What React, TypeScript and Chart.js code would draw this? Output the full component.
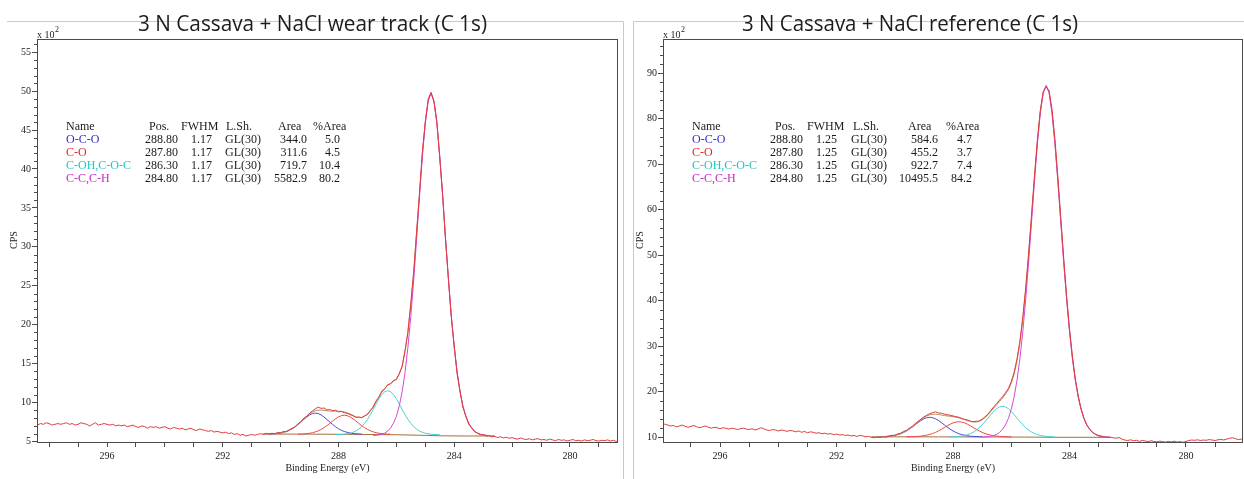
import React, { useEffect, useRef } from "react";
import { Chart, registerables } from "chart.js";

Chart.register(...registerables);
Chart.defaults.font.family = '"Liberation Serif", serif';

// ---------- DATA ----------
const energy = [
  298.6, 298.5, 298.4, 298.3, 298.2, 298.1, 298.0, 297.9, 297.8, 297.7,
  297.6, 297.5, 297.4, 297.3, 297.2, 297.1, 297.0, 296.9, 296.8, 296.7,
  296.6, 296.5, 296.4, 296.3, 296.2, 296.1, 296.0, 295.9, 295.8, 295.7,
  295.6, 295.5, 295.4, 295.3, 295.2, 295.1, 295.0, 294.9, 294.8, 294.7,
  294.6, 294.5, 294.4, 294.3, 294.2, 294.1, 294.0, 293.9, 293.8, 293.7,
  293.6, 293.5, 293.4, 293.3, 293.2, 293.1, 293.0, 292.9, 292.8, 292.7,
  292.6, 292.5, 292.4, 292.3, 292.2, 292.1, 292.0, 291.9, 291.8, 291.7,
  291.6, 291.5, 291.4, 291.3, 291.2, 291.1, 291.0, 290.9, 290.8, 290.7,
  290.6, 290.5, 290.4, 290.3, 290.2, 290.1, 290.0, 289.9, 289.8, 289.7,
  289.6, 289.5, 289.4, 289.3, 289.2, 289.1, 289.0, 288.9, 288.8, 288.7,
  288.6, 288.5, 288.4, 288.3, 288.2, 288.1, 288.0, 287.9, 287.8, 287.7,
  287.6, 287.5, 287.4, 287.3, 287.2, 287.1, 287.0, 286.9, 286.8, 286.7,
  286.6, 286.5, 286.4, 286.3, 286.2, 286.1, 286.0, 285.9, 285.8, 285.7,
  285.6, 285.5, 285.4, 285.3, 285.2, 285.1, 285.0, 284.9, 284.8, 284.7,
  284.6, 284.5, 284.4, 284.3, 284.2, 284.1, 284.0, 283.9, 283.8, 283.7,
  283.6, 283.5, 283.4, 283.3, 283.2, 283.1, 283.0, 282.9, 282.8, 282.7,
  282.6, 282.5, 282.4, 282.3, 282.2, 282.1, 282.0, 281.9, 281.8, 281.7,
  281.6, 281.5, 281.4, 281.3, 281.2, 281.1, 281.0, 280.9, 280.8, 280.7,
  280.6, 280.5, 280.4, 280.3, 280.2, 280.1, 280.0, 279.9, 279.8, 279.7,
  279.6, 279.5, 279.4, 279.3, 279.2, 279.1, 279.0, 278.9, 278.8, 278.7,
  278.6, 278.5, 278.4, 278.3, 278.2, 278.1, 278.0,
];

// wear track (CPS x 10^2)
const rawWear = [
  7.2, 7.4, 7.1, 7.3, 7.2, 7.4, 7.3, 7.1, 7.2, 7.3,
  7.2, 7.3, 7.4, 7.2, 7.3, 7.1, 7.2, 7.4, 7.3, 7.2,
  7.0, 7.2, 7.4, 7.1, 7.2, 7.3, 7.2, 7.1, 7.2, 7.0,
  7.1, 7.0, 7.1, 6.9, 7.0, 7.1, 6.9, 6.8, 7.0, 6.9,
  6.7, 6.9, 6.8, 6.9, 6.7, 6.8, 6.9, 6.7, 6.6, 6.8,
  6.7, 6.6, 6.7, 6.5, 6.6, 6.7, 6.5, 6.4, 6.6, 6.5,
  6.4, 6.3, 6.4, 6.2, 6.3, 6.2, 6.1, 6.2, 6.0, 6.1,
  5.9, 6.0, 5.8, 5.9, 5.7, 5.8, 5.9, 5.8, 5.9, 6.0,
  5.90, 6.05, 5.95, 6.05, 6.00, 6.15, 6.10, 6.30, 6.25, 6.50,
  6.70, 6.85, 7.30, 7.50, 8.00, 8.20, 8.65, 8.90, 9.20, 9.40,
  9.25, 9.30, 9.05, 9.10, 8.95, 9.00, 8.80, 8.85, 8.70, 8.60,
  8.45, 8.30, 8.10, 8.15, 8.05, 8.30, 8.45, 9.00, 9.40, 10.20,
  10.70, 11.50, 11.75, 12.30, 12.40, 12.85, 12.95, 13.75, 14.60, 16.70,
  19.00, 22.80, 26.70, 32.00, 36.80, 42.20, 46.00, 49.00, 49.85, 48.60,
  46.10, 41.40, 36.70, 30.80, 25.90, 20.90, 17.30, 13.70, 11.50, 9.40,
  8.30, 7.20, 6.80, 6.25, 6.10, 5.85, 5.90, 5.70, 5.75, 5.60,
  5.65, 5.50, 5.60, 5.45, 5.55, 5.40, 5.50, 5.35, 5.30, 5.45,
  5.30, 5.25, 5.35, 5.20, 5.30, 5.35, 5.20, 5.25, 5.15, 5.30,
  5.20, 5.10, 5.25, 5.15, 5.20, 5.05, 5.15, 5.25, 5.10, 5.15,
  5.05, 5.20, 5.10, 5.15, 5.25, 5.10, 5.05, 5.15, 5.10, 5.20,
  5.05, 5.15, 5.00, 5.10, 5.05, 5.15, 5.05,
];
const envelopeWear = {
  start: 290.6,
  values: [
    5.96, 5.96, 5.97, 5.99, 6.01, 6.05, 6.10, 6.19, 6.30, 6.46,
    6.66, 6.91, 7.21, 7.54, 7.90, 8.25, 8.56, 8.78, 8.95, 9.02,
    9.03, 8.99, 8.94, 8.89, 8.88, 8.89, 8.89, 8.87, 8.80, 8.69,
    8.53, 8.35, 8.15, 8.06, 8.07, 8.22, 8.51, 8.93, 9.49, 10.13,
    10.77, 11.36, 11.83, 12.20, 12.45, 12.70, 13.02, 13.59, 14.74, 16.53,
    19.18, 22.63, 26.91, 31.83, 37.05, 42.02, 46.18, 48.84, 49.80, 48.76,
    45.92, 41.64, 36.49, 31.02, 25.78, 21.08, 17.12, 13.84, 11.38, 9.53,
    8.21, 7.33, 6.71, 6.32, 6.05, 5.91, 5.82, 5.77, 5.73, 5.71,
    5.70,
  ],
};
const ocoWear = {
  start: 290.4,
  values: [5.95, 5.97, 5.99, 6.03, 6.08, 6.17, 6.28, 6.43, 6.63, 6.88, 7.17, 7.49, 7.82, 8.14, 8.40, 8.58, 8.64,
    8.58, 8.40, 8.14, 7.82, 7.49, 7.17, 6.88, 6.63, 6.43, 6.28, 6.17, 6.08, 6.03, 5.99, 5.97, 5.95],
};
const coWear = {
  start: 289.4,
  values: [5.93, 5.94, 5.97, 6.00, 6.05, 6.12, 6.23, 6.36, 6.55, 6.77, 7.03, 7.32, 7.63, 7.91, 8.15, 8.31, 8.37,
    8.31, 8.15, 7.91, 7.63, 7.32, 7.03, 6.77, 6.55, 6.36, 6.23, 6.12, 6.05, 6.00, 5.97, 5.94, 5.93],
};
const cohWear = {
  start: 288.1,
  values: [5.87, 5.88, 5.90, 5.93, 5.98, 6.06, 6.17, 6.34, 6.58, 6.90, 7.32, 7.83, 8.44, 9.11, 9.81, 10.48, 11.03, 11.39, 11.52,
    11.39, 11.03, 10.48, 9.81, 9.11, 8.44, 7.83, 7.32, 6.90, 6.58, 6.34, 6.17, 6.06, 5.98, 5.93, 5.90, 5.88, 5.87],
};
const ccWear = {
  start: 286.8,
  values: [5.75, 5.79, 5.84, 5.93, 6.07, 6.34, 6.73, 7.35, 8.23, 9.55, 11.40, 13.86, 17.12, 21.08, 25.78, 31.02, 36.48, 41.62, 45.89, 48.71, 49.72,
    48.71, 45.89, 41.62, 36.48, 31.02, 25.78, 21.08, 17.12, 13.86, 11.40, 9.55, 8.23, 7.35, 6.73, 6.34, 6.07, 5.93, 5.84, 5.79, 5.75],
};
const bgWearEnergy = [290.6, 289.0, 287.5, 286.0, 285.0, 284.4, 283.6, 282.6];
const bgWearValues = [5.95, 5.94, 5.91, 5.86, 5.78, 5.72, 5.70, 5.70];

// reference (CPS x 10^2)
const rawRef = [
  12.5, 12.7, 12.4, 12.6, 12.8, 12.5, 12.6, 12.9, 12.7, 12.5,
  12.6, 12.3, 12.5, 12.7, 12.4, 12.2, 12.4, 12.6, 12.3, 12.1,
  12.3, 12.5, 12.2, 12.0, 12.2, 12.1, 11.9, 12.1, 12.0, 11.8,
  12.0, 11.9, 11.7, 11.9, 12.0, 11.8, 11.7, 11.9, 11.6, 11.8,
  12.1, 11.9, 11.6, 11.5, 11.7, 11.6, 11.4, 11.6, 11.5, 11.3,
  11.5, 11.4, 11.2, 11.4, 11.1, 11.3, 11.0, 11.2, 11.1, 10.9,
  11.0, 10.8, 10.9, 10.7, 10.8, 10.6, 10.7, 10.5, 10.6, 10.4,
  10.5, 10.3, 10.4, 10.2, 10.4, 10.3, 10.1, 10.2, 10.00, 9.90,
  10.05, 9.95, 10.10, 10.00, 10.20, 10.45, 10.40, 10.75, 10.90, 11.30,
  11.50, 12.00, 12.40, 13.00, 13.50, 14.00, 14.50, 14.85, 15.20, 15.40,
  15.60, 15.35, 15.30, 15.10, 14.95, 14.85, 14.70, 14.55, 14.40, 14.15,
  13.95, 13.80, 13.55, 13.45, 13.50, 13.60, 14.00, 14.50, 15.10, 15.90,
  16.70, 17.40, 18.20, 18.90, 19.80, 20.70, 22.20, 24.30, 27.30, 31.20,
  36.60, 43.00, 50.70, 59.10, 67.60, 75.50, 81.90, 85.90, 87.00, 86.20,
  82.10, 75.60, 67.40, 58.50, 49.60, 41.30, 34.00, 27.90, 22.90, 19.10,
  16.20, 14.10, 12.60, 11.70, 11.00, 10.60, 10.30, 10.20, 10.05, 9.95,
  10.00, 9.90, 9.80, 9.95, 9.60, 9.40, 9.30, 9.45, 9.25, 9.35,
  9.10, 9.30, 9.20, 9.05, 9.25, 9.10, 9.00, 9.15, 9.05, 8.95,
  9.10, 9.00, 9.15, 8.95, 9.05, 8.90, 9.10, 9.30, 9.40, 9.35,
  9.45, 9.30, 9.40, 9.35, 9.50, 9.40, 9.30, 9.45, 9.55, 9.40,
  9.60, 9.80, 9.90, 9.70, 9.50, 9.60, 9.45,
];
const envelopeRef = {
  start: 290.8,
  values: [
    10.11, 10.11,
    10.12, 10.14, 10.16, 10.20, 10.25, 10.33, 10.44, 10.60, 10.81, 11.08,
    11.42, 11.83, 12.30, 12.81, 13.35, 13.87, 14.33, 14.69, 14.94, 15.06,
    15.07, 15.01, 14.89, 14.78, 14.69, 14.61, 14.52, 14.42, 14.27, 14.09,
    13.87, 13.64, 13.46, 13.35, 13.36, 13.52, 13.83, 14.31, 14.93, 15.64,
    16.41, 17.17, 17.88, 18.63, 19.43, 20.44, 21.86, 23.90, 26.83, 30.84,
    36.11, 42.62, 50.25, 58.64, 67.19, 75.11, 81.63, 85.90, 87.35, 85.76,
    81.33, 74.61, 66.38, 57.49, 48.67, 40.52, 33.38, 27.40, 22.61, 18.90,
    16.13, 14.11, 12.70, 11.73, 11.08, 10.66, 10.40, 10.23, 10.13, 10.07,
    10.04,
  ],
};
const ocoRef = {
  start: 290.6,
  values: [10.12, 10.14, 10.16, 10.20, 10.25, 10.33, 10.44, 10.60, 10.80, 11.07, 11.40, 11.80, 12.25, 12.74, 13.23, 13.69, 14.06, 14.31, 14.39,
    14.31, 14.06, 13.69, 13.23, 12.74, 12.25, 11.80, 11.40, 11.07, 10.80, 10.60, 10.44, 10.33, 10.25, 10.20, 10.16, 10.14, 10.12],
};
const coRef = {
  start: 289.6,
  values: [10.10, 10.11, 10.13, 10.16, 10.20, 10.26, 10.35, 10.47, 10.63, 10.83, 11.09, 11.40, 11.75, 12.13, 12.52, 12.87, 13.16, 13.35, 13.42,
    13.35, 13.16, 12.87, 12.52, 12.13, 11.75, 11.40, 11.09, 10.83, 10.63, 10.47, 10.35, 10.26, 10.20, 10.16, 10.13, 10.11, 10.10],
};
const cohRef = {
  start: 288.1,
  values: [10.09, 10.11, 10.15, 10.20, 10.29, 10.41, 10.59, 10.83, 11.16, 11.58, 12.10, 12.73, 13.44, 14.21, 14.99, 15.71, 16.30, 16.69, 16.82,
    16.69, 16.30, 15.71, 14.99, 14.21, 13.44, 12.73, 12.10, 11.58, 11.16, 10.83, 10.59, 10.41, 10.29, 10.20, 10.15, 10.11, 10.09],
};
const ccRef = {
  start: 287.0,
  values: [10.04, 10.07, 10.13, 10.23, 10.40, 10.66, 11.08, 11.73, 12.70, 14.11, 16.13, 18.90, 22.61, 27.40, 33.38, 40.52, 48.67, 57.48, 66.36, 74.57, 81.27, 85.66, 87.20,
    85.66, 81.27, 74.57, 66.36, 57.48, 48.67, 40.52, 33.38, 27.40, 22.61, 18.90, 16.13, 14.11, 12.70, 11.73, 11.08, 10.66, 10.40, 10.23, 10.13, 10.07, 10.04],
};
const bgRefEnergy = [290.8, 288.5, 286.5, 285.2, 284.4, 282.6];
const bgRefValues = [10.10, 10.10, 10.07, 10.04, 10.00, 10.00];

// table text
const tableHeaders = ["Name", "Pos.", "FWHM", "L.Sh.", "Area", "%Area"];
const componentNames = ["O-C-O", "C-O", "C-OH,C-O-C", "C-C,C-H"];
const componentPos = ["288.80", "287.80", "286.30", "284.80"];
const lineShape = "GL(30)";
const fwhmWear = "1.17";
const areaWear = ["344.0", "311.6", "719.7", "5582.9"];
const pctWear = ["5.0", "4.5", "10.4", "80.2"];
const fwhmRef = "1.25";
const areaRef = ["584.6", "455.2", "922.7", "10495.5"];
const pctRef = ["4.7", "3.7", "7.4", "84.2"];

// ---------- STYLE ----------
const RAW = "#e03c3c";
const ENV = "#bc8f63";
const BG = "#a26f3a";
const COMP_LINE = ["#4a4ad8", "#f04646", "#46d2d2", "#d648d6"];
const COMP_TEXT = ["#2f2fc4", "#e62222", "#22c4c4", "#c826c8"];
const AXIS = "#4a4a4a";

type Series = { start: number; values: number[] };

function seriesPoints(s: Series) {
  const i0 = energy.findIndex((e) => Math.abs(e - s.start) < 1e-6);
  return s.values.map((v, i) => ({ x: energy[i0 + i], y: v }));
}
function pairPoints(xs: number[], ys: number[]) {
  return xs.map((x, i) => ({ x, y: ys[i] }));
}

type PanelCfg = {
  offset: number;
  width: number;
  padRight: number;
  yWidth: number;
  xMin: number;
  xMax: number;
  yMin: number;
  yMax: number;
  yMinor: number;
  yMajor: number;
  title: string;
  titleX: number;
  titleW: number;
  frame: number[][];
  cpsX: number;
  cols: { name: number; posHdr: number; posR: number; fwhmHdr: number; fwhmR: number; lshHdr: number; lshL: number; areaHdr: number; areaR: number; pctHdr: number; pctR: number };
  raw: number[];
  envelope: Series;
  comps: Series[];
  bg: { x: number[]; y: number[] };
  fwhm: string;
  area: string[];
  pct: string[];
};

const wearPanel: PanelCfg = {
  offset: 0,
  width: 628,
  padRight: 10,
  yWidth: 37,
  xMin: 278.34,
  xMax: 298.42,
  yMin: 4.8,
  yMax: 56.7,
  yMinor: 1,
  yMajor: 5,
  title: "3 N Cassava + NaCl wear track (C 1s)",
  titleX: 138,
  titleW: 349,
  frame: [[7, 21.5, 623.5, 21.5], [623.5, 21.5, 623.5, 479]],
  cpsX: 14,
  cols: { name: 66, posHdr: 149, posR: 178, fwhmHdr: 181, fwhmR: 212, lshHdr: 226, lshL: 225, areaHdr: 278, areaR: 307, pctHdr: 313, pctR: 340 },
  raw: rawWear,
  envelope: envelopeWear,
  comps: [ocoWear, coWear, cohWear, ccWear],
  bg: { x: bgWearEnergy, y: bgWearValues },
  fwhm: fwhmWear,
  area: areaWear,
  pct: pctWear,
};

const refPanel: PanelCfg = {
  offset: 628,
  width: 616,
  padRight: 1,
  yWidth: 35,
  xMin: 278.04,
  xMax: 297.96,
  yMin: 8.75,
  yMax: 97.5,
  yMinor: 2,
  yMajor: 10,
  title: "3 N Cassava + NaCl reference (C 1s)",
  titleX: 742,
  titleW: 336,
  frame: [[633.5, 479, 633.5, 21.5], [633.5, 21.5, 1244, 21.5]],
  cpsX: 640,
  cols: { name: 692, posHdr: 775, posR: 803, fwhmHdr: 807, fwhmR: 837, lshHdr: 853, lshL: 851, areaHdr: 908, areaR: 938, pctHdr: 946, pctR: 972 },
  raw: rawRef,
  envelope: envelopeRef,
  comps: [ocoRef, coRef, cohRef, ccRef],
  bg: { x: bgRefEnergy, y: bgRefValues },
  fwhm: fwhmRef,
  area: areaRef,
  pct: pctRef,
};

function decoPlugin(p: PanelCfg) {
  return {
    id: "deco",
    afterDraw(chart: any) {
      const ctx: CanvasRenderingContext2D = chart.ctx;
      const a = chart.chartArea;
      const ox = p.offset;
      ctx.save();
      // panel frame
      ctx.strokeStyle = "#c9c9c9";
      ctx.lineWidth = 1;
      ctx.beginPath();
      for (const s of p.frame) {
        ctx.moveTo(s[0] - ox, s[1]);
        ctx.lineTo(s[2] - ox, s[3]);
      }
      ctx.stroke();
      // title
      ctx.font = '22px "Open Sans", sans-serif';
      ctx.textAlign = "left";
      ctx.textBaseline = "alphabetic";
      const tw = ctx.measureText(p.title).width;
      ctx.save();
      ctx.translate(p.titleX - ox, 31);
      ctx.scale(p.titleW / tw, 1);
      ctx.fillStyle = "#1c1c1c";
      ctx.fillText(p.title, 0, 0);
      ctx.restore();
      // plot border
      ctx.strokeStyle = AXIS;
      ctx.strokeRect(a.left + 0.5, a.top + 0.5, a.right - a.left - 1, a.bottom - a.top - 1);
      // minor y ticks
      const ys = chart.scales.y;
      ctx.beginPath();
      for (const t of ys.ticks) {
        if (Math.round(t.value) % p.yMajor !== 0) {
          const y = Math.round(ys.getPixelForValue(t.value)) + 0.5;
          ctx.moveTo(a.left - 3, y);
          ctx.lineTo(a.left, y);
        }
      }
      ctx.stroke();
      // x 10^2
      ctx.fillStyle = "#222";
      ctx.font = '10px "Liberation Serif", serif';
      ctx.fillText("x 10", a.left, 38);
      const w10 = ctx.measureText("x 10").width;
      ctx.font = '8px "Liberation Serif", serif';
      ctx.fillText("2", a.left + w10 + 0.5, 32);
      // CPS
      ctx.save();
      ctx.translate(p.cpsX - ox, 240);
      ctx.rotate(-Math.PI / 2);
      ctx.font = '10px "Liberation Serif", serif';
      ctx.textAlign = "center";
      ctx.textBaseline = "middle";
      ctx.fillText("CPS", 0, 0);
      ctx.restore();
      // x title
      ctx.font = '10px "Liberation Serif", serif';
      ctx.textAlign = "center";
      ctx.textBaseline = "alphabetic";
      ctx.fillText("Binding Energy (eV)", (a.left + a.right) / 2, 471);
      // table
      const c = p.cols;
      const rows = [130, 143, 156, 169, 182];
      ctx.font = '12px "Liberation Serif", serif';
      ctx.fillStyle = "#1a1a1a";
      ctx.textAlign = "left";
      ctx.fillText(tableHeaders[0], c.name - ox, rows[0]);
      ctx.fillText(tableHeaders[1], c.posHdr - ox, rows[0]);
      ctx.fillText(tableHeaders[2], c.fwhmHdr - ox, rows[0]);
      ctx.fillText(tableHeaders[3], c.lshHdr - ox, rows[0]);
      ctx.fillText(tableHeaders[4], c.areaHdr - ox, rows[0]);
      ctx.fillText(tableHeaders[5], c.pctHdr - ox, rows[0]);
      for (let i = 0; i < componentNames.length; i++) {
        const y = rows[i + 1];
        ctx.fillStyle = COMP_TEXT[i];
        ctx.textAlign = "left";
        ctx.fillText(componentNames[i], c.name - ox, y);
        ctx.fillStyle = "#1a1a1a";
        ctx.fillText(lineShape, c.lshL - ox, y);
        ctx.textAlign = "right";
        ctx.fillText(componentPos[i], c.posR - ox, y);
        ctx.fillText(p.fwhm, c.fwhmR - ox, y);
        ctx.fillText(p.area[i], c.areaR - ox, y);
        ctx.fillText(p.pct[i], c.pctR - ox, y);
      }
      ctx.restore();
    },
  };
}

function buildConfig(p: PanelCfg): any {
  const line = (data: any[], color: string) => ({
    data,
    borderColor: color,
    borderWidth: 1,
    pointRadius: 0,
    fill: false,
    tension: 0,
  });
  const rawPts = energy.map((e, i) => ({ x: e, y: p.raw[i] }));
  // dataset 0 is drawn last (on top)
  return {
    type: "line",
    data: {
      datasets: [
        line(rawPts, RAW),
        line(seriesPoints(p.comps[3]), COMP_LINE[3]),
        line(seriesPoints(p.envelope), ENV),
        line(seriesPoints(p.comps[2]), COMP_LINE[2]),
        line(seriesPoints(p.comps[1]), COMP_LINE[1]),
        line(seriesPoints(p.comps[0]), COMP_LINE[0]),
        line(pairPoints(p.bg.x, p.bg.y), BG),
      ],
    },
    options: {
      animation: false,
      responsive: false,
      maintainAspectRatio: false,
      events: [],
      layout: { padding: { top: 39, right: p.padRight, left: 0, bottom: 0 } },
      plugins: { legend: { display: false }, tooltip: { enabled: false }, title: { display: false } },
      scales: {
        x: {
          type: "linear",
          reverse: true,
          min: p.xMin,
          max: p.xMax,
          afterFit: (s: any) => {
            s.height = 36;
          },
          border: { display: false },
          grid: { display: true, drawOnChartArea: false, drawTicks: true, tickLength: 4, color: AXIS, tickColor: AXIS },
          ticks: {
            stepSize: 1,
            includeBounds: false,
            autoSkip: false,
            maxTicksLimit: 200,
            maxRotation: 0,
            padding: 3,
            color: "#222",
            font: { family: '"Liberation Serif", serif', size: 10 },
            callback: (v: number) => (Math.round(v) % 4 === 0 ? String(Math.round(v)) : ""),
          },
        },
        y: {
          type: "linear",
          min: p.yMin,
          max: p.yMax,
          afterFit: (s: any) => {
            s.width = p.yWidth;
          },
          border: { display: false },
          grid: {
            display: true,
            drawOnChartArea: false,
            drawTicks: true,
            tickLength: 5,
            color: AXIS,
            tickColor: (ctx: any) => (ctx.tick && Math.round(ctx.tick.value) % p.yMajor === 0 ? AXIS : "rgba(0,0,0,0)"),
          },
          ticks: {
            stepSize: p.yMinor,
            includeBounds: false,
            autoSkip: false,
            maxTicksLimit: 200,
            padding: 1,
            color: "#222",
            font: { family: '"Liberation Serif", serif', size: 10 },
            callback: (v: number) => (Math.round(v) % p.yMajor === 0 ? String(Math.round(v)) : ""),
          },
        },
      },
    },
    plugins: [decoPlugin(p)],
  };
}

function Panel({ cfg }: { cfg: PanelCfg }) {
  const ref = useRef<HTMLCanvasElement>(null);
  useEffect(() => {
    const chart = new Chart(ref.current as HTMLCanvasElement, buildConfig(cfg));
    return () => chart.destroy();
  }, [cfg]);
  return (
    <canvas
      ref={ref}
      width={cfg.width}
      height={479}
      style={{ position: "absolute", left: cfg.offset, top: 0, width: cfg.width, height: 479 }}
    />
  );
}

export default function App() {
  return (
    <div style={{ position: "fixed", left: 0, top: 0, width: 1244, height: 479, background: "#ffffff", overflow: "hidden" }}>
      <Panel cfg={wearPanel} />
      <Panel cfg={refPanel} />
    </div>
  );
}
